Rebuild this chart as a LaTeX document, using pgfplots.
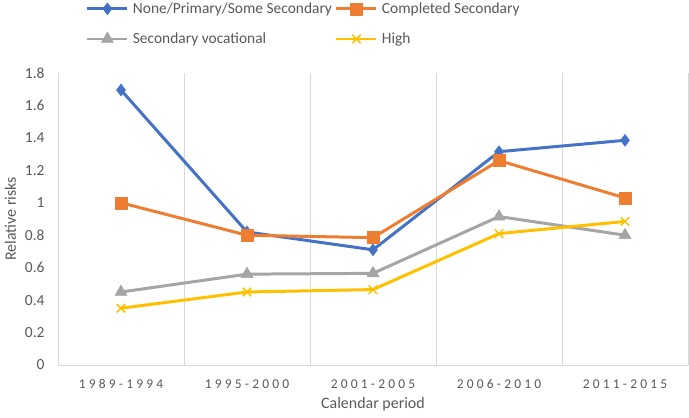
\documentclass[border=0pt]{standalone}
\usepackage{fontspec}
\setmainfont{Carlito}
\newfontfamily\spaced{Carlito}[LetterSpace=24]
\usepackage{pgfplots}
\pgfplotsset{compat=1.18}
\definecolor{cblue}{HTML}{4472C4}
\definecolor{corange}{HTML}{ED7D31}
\definecolor{cgray}{HTML}{A5A5A5}
\definecolor{cyellow}{HTML}{FFC000}
\definecolor{gridc}{HTML}{D9D9D9}
\definecolor{txt}{HTML}{595959}
\begin{document}
\begin{tikzpicture}
\path[use as bounding box] (-58bp,-53bp) rectangle (631bp,365bp);
\begin{axis}[
  scale only axis,
  width=630bp, height=292bp,
  xmin=-0.5, xmax=4.5,
  ymin=0, ymax=1.8,
  ytick={0,0.2,...,1.8},
  yticklabels={0,0.2,0.4,0.6,0.8,1,1.2,1.4,1.6,1.8},
  xtick={0,1,2,3,4},
  xticklabels={1989-1994,1995-2000,2001-2005,2006-2010,2011-2015},
  minor xtick={0.5,1.5,2.5,3.5,4.5},
  xminorgrids,
  minor grid style={gridc, line width=0.9pt},
  major tick length=0pt, minor tick length=0pt,
  axis x line*=bottom, axis y line*=left,
  axis line style={gridc, line width=0.9pt, -},
  tick label style={text=txt},
  yticklabel style={font=\fontsize{15.5}{15.5}\selectfont, xshift=-10bp},
  xticklabel style={font=\fontsize{13.5}{13.5}\selectfont\spaced, yshift=-11bp},
  ylabel={Relative risks},
  xlabel={Calendar period},
  label style={text=txt, font=\fontsize{16}{16}\selectfont},
  ylabel style={yshift=2bp},
  xlabel style={yshift=-2bp},
  legend columns=2,
  legend style={at={(axis description cs:0.044,1.088)}, anchor=south west, draw=none, inner sep=0pt,
    font=\fontsize{15.5}{15.5}\selectfont, text=txt, row sep=14bp,
    /tikz/every even column/.append style={column sep=1bp},
    /tikz/every odd column/.append style={column sep=2bp}},
  legend cell align=left,
  legend image code/.code={\draw[#1, line width=3pt] (0bp,0bp) -- (40bp,0bp); \draw[#1, mark repeat=2, mark phase=2] plot coordinates {(0bp,0bp) (20bp,0bp) (40bp,0bp)};},
  every axis plot/.append style={line width=3pt},
]
\addplot[cblue, mark=diamond*, mark size=6pt, mark options={line width=0.5pt}] coordinates {(0,1.695) (1,0.82) (2,0.71) (3,1.315) (4,1.385)};
\addlegendentry{None/Primary/Some Secondary}
\addplot[corange, mark=square*, mark size=6pt, mark options={line width=0.5pt}] coordinates {(0,1.0) (1,0.80) (2,0.785) (3,1.26) (4,1.03)};
\addlegendentry{Completed Secondary}
\addplot[cgray, mark=triangle*, mark size=7pt, mark options={line width=0.5pt}] coordinates {(0,0.45) (1,0.56) (2,0.565) (3,0.915) (4,0.80)};
\addlegendentry{Secondary vocational}
\addplot[cyellow, mark=x, mark size=6pt, mark options={line width=1.5pt}] coordinates {(0,0.35) (1,0.45) (2,0.465) (3,0.81) (4,0.885)};
\addlegendentry{High}
\end{axis}
\end{tikzpicture}
\end{document}
